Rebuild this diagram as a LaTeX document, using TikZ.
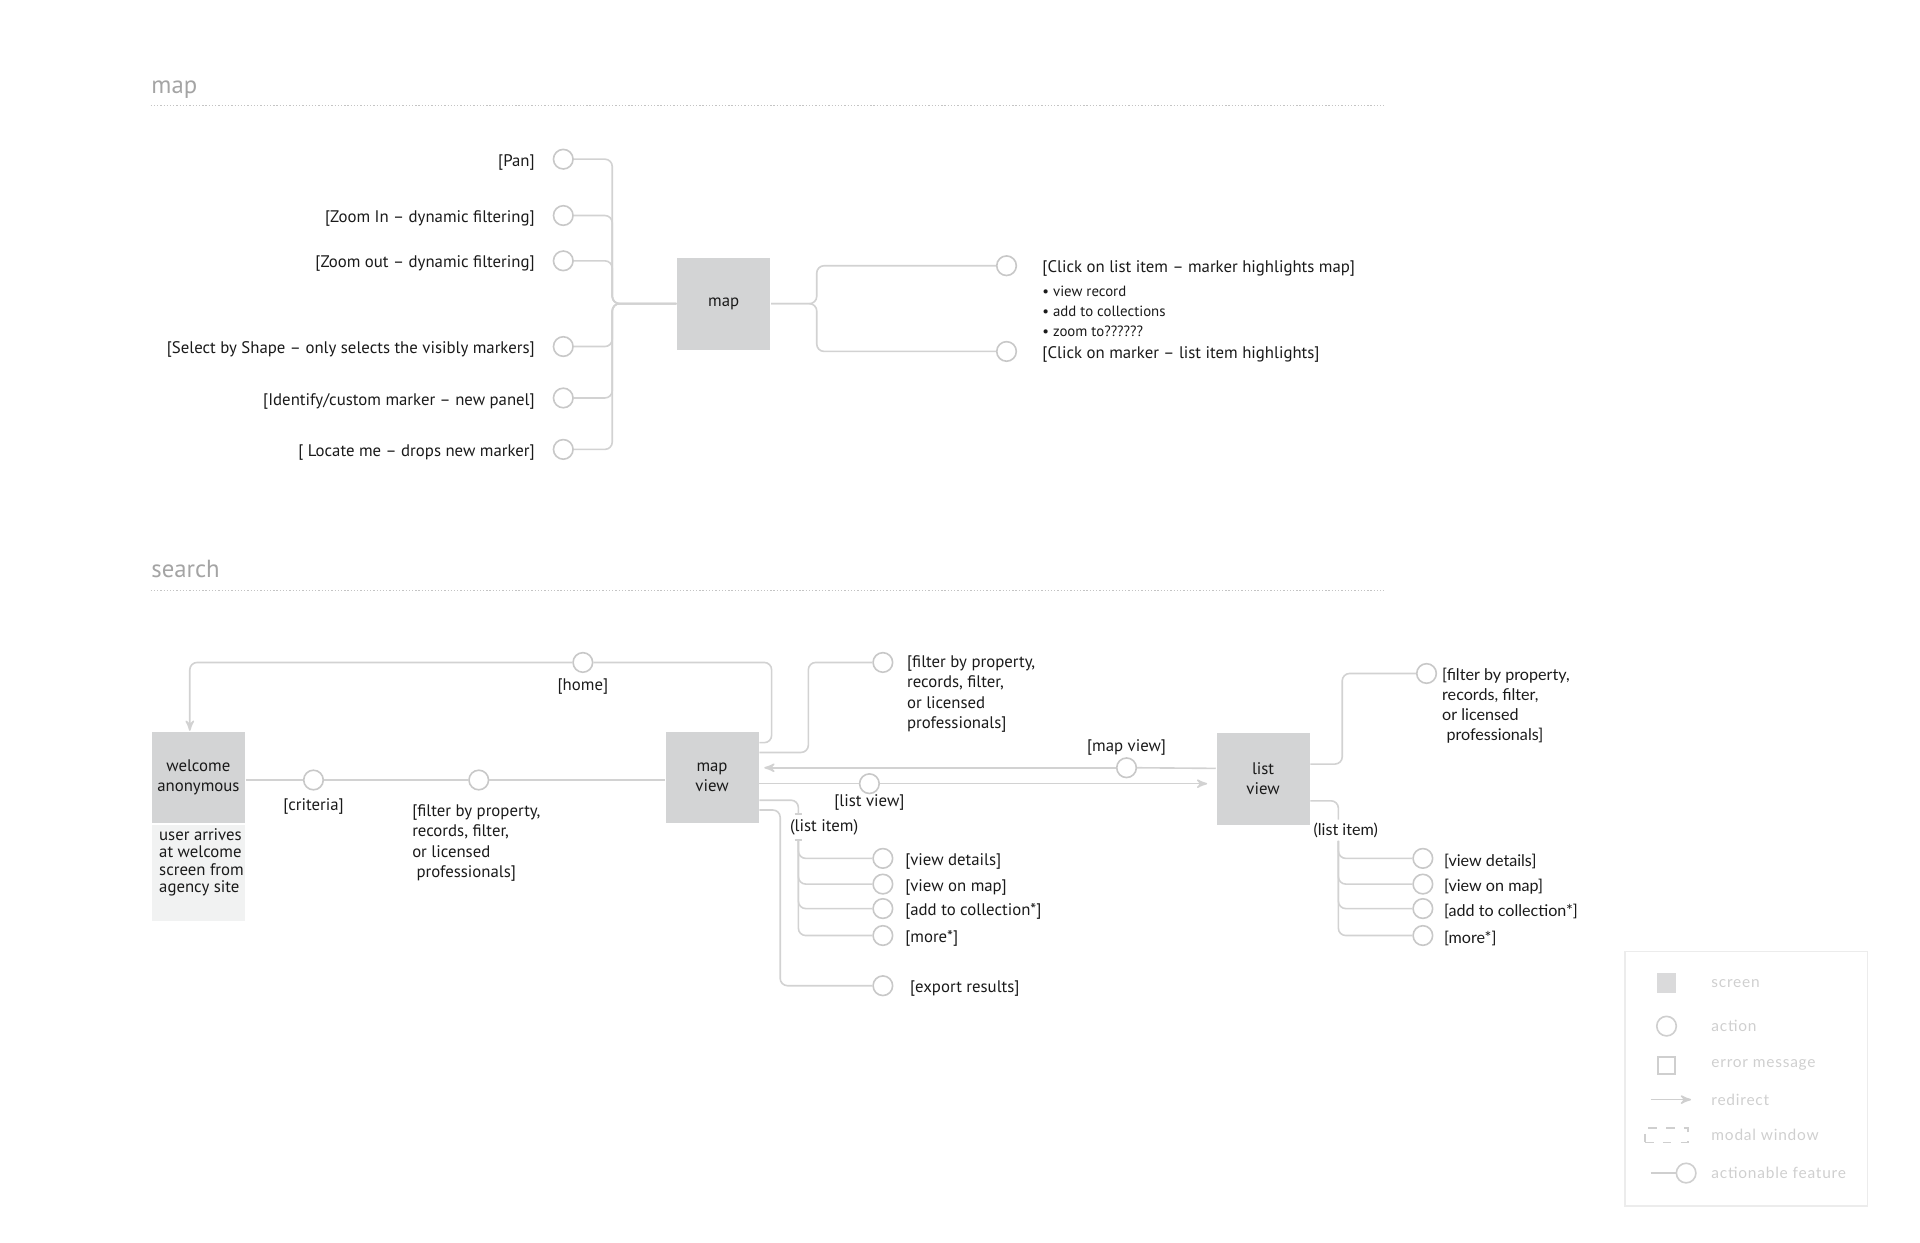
\documentclass[tikz,border=0pt]{standalone}
\usepackage{fontspec}
\setmainfont{PT Sans}
\newfontfamily\listfont{Lato}
\newfontfamily\keyfont{Lato}[LetterSpace=5]
\usepackage{tikz}
\usetikzlibrary{arrows,positioning}

\definecolor{linegray}{HTML}{D2D2D2}
\definecolor{circgray}{HTML}{C8C8C8}
\definecolor{boxgray}{HTML}{D3D4D5}
\definecolor{notegray}{HTML}{F1F2F2}
\definecolor{headgray}{HTML}{A4A4A4}
\definecolor{rulegray}{HTML}{C4C4C4}
\definecolor{inkgray}{HTML}{1A1A1A}
\definecolor{keygray}{HTML}{CFCFCF}
\definecolor{keyline}{HTML}{ECECEC}

\begin{document}
\begin{tikzpicture}[x=0.02cm,y=-0.02cm,>=stealth',line width=0.75pt,
    font=\fontsize{7.8}{9.4}\selectfont,text=inkgray,
    screen/.style={fill=boxgray,minimum width=1.52cm,minimum height=1.5cm,inner sep=0pt,align=center},
    action/.style={circle,draw=circgray,fill=white,minimum size=0.32cm,inner sep=0pt},
    lbl/.style={inner sep=0pt,align=left},
    sidelbl/.style={lbl,yshift=-0.05cm},
    listtext/.style={lbl,font=\listfont\fontsize{7.5}{9.2}\selectfont},
    link/.style={draw=linegray,rounded corners=0.12cm},
    head/.style={text=headgray,font=\fontsize{11.5}{13}\selectfont,anchor=base west,inner sep=0pt},
    rule/.style={draw=rulegray,line width=0.5pt,dash pattern=on 0.6pt off 0.9pt},
    keytext/.style={lbl,anchor=west,text=keygray,font=\keyfont\fontsize{7.2}{8}\selectfont}]

  \useasboundingbox (0,0) rectangle (1568,1014.3);

  % map
  \node[head] (maphead) at (123,76) {map};
  \coordinate (mapruleA) at (123,86);
  \coordinate (mapruleB) at (1130,86);
  \draw[rule] (mapruleA) -- (mapruleB);

  \node[screen] (map) at (591,248) {map};
  \coordinate (mapbus) at (500,248);
  \coordinate (mapfork) at (667,248);

  \foreach \nm/\y/\txt in {pan/130/{[Pan]},
      zoomin/176/{[Zoom In \textendash{} dynamic filtering]},
      zoomout/213/{[Zoom out \textendash{} dynamic filtering]},
      shape/283/{[Select by Shape \textendash{} only selects the visibly markers]},
      identify/325/{[Identify/custom marker \textendash{} new panel]},
      locate/367/{[ Locate me \textendash{} drops new marker]}}
  {
    \node[action] (\nm) at (460,\y) {};
    \node[sidelbl,left=0.28cm of \nm] (\nm-label) {\txt};
    \draw[link] (\nm.east) -| (mapbus) -- (map.west);
  }

  \node[action] (listclick) at (822,217) {};
  \node[action] (markerclick) at (822,287) {};
  \draw[link] (map.east) -- (mapfork) |- (listclick.west);
  \draw[link] (map.east) -- (mapfork) |- (markerclick.west);
  \node[sidelbl,right=0.4cm of listclick] (listclick-label) {[Click on list item \textendash{} marker highlights map]};
  \node[lbl,anchor=north west,font=\fontsize{6.9}{9.3}\selectfont] (listclick-notes)
    at ([yshift=-0.12cm]listclick-label.south west)
    {\textbullet{} view record\\ \textbullet{} add to collections\\ \textbullet{} zoom to??????};
  \node[sidelbl,right=0.4cm of markerclick] (markerclick-label) {[Click on marker \textendash{} list item highlights]};

  % search
  \node[head] (searchhead) at (123,472) {search};
  \coordinate (searchruleA) at (123,482);
  \coordinate (searchruleB) at (1130,482);
  \draw[rule] (searchruleA) -- (searchruleB);

  \node[screen] (welcome) at (162,635) {welcome\\anonymous};
  \node[fill=notegray,minimum width=1.52cm,minimum height=1.56cm,inner sep=0pt,below=0pt of welcome] (welcomenote) {};
  \node[lbl,anchor=north west,font=\fontsize{7.8}{8}\selectfont] (welcometext)
    at ([xshift=0.12cm,yshift=-0.06cm]welcomenote.north west) {user arrives\\at welcome\\screen from\\agency site};

  \node[screen] (mapview) at (581.5,635) {map\\view};
  \node[screen] (listview) at (1031.5,636) {list\\view};

  % welcome -> map view
  \node[action] (criteria) at (256,637) {};
  \node[action] (filter) at (391,637) {};
  \draw[link] (welcome.east |- criteria) -- (criteria.west);
  \draw[link] (criteria.east) -- (filter.west);
  \draw[link] (filter.east) -- (mapview.west |- filter);
  \node[lbl,below=0.12cm of criteria] (criteria-label) {[criteria]};
  \node[lbl,anchor=north west] (filter-label) at ([xshift=-1.1cm,yshift=-0.22cm]filter.south)
    {[filter by property,\\records, filter,\\or licensed\\\hspace{2pt}professionals]};

  % home
  \node[action] (home) at (476,541) {};
  \node[lbl,below=0.08cm of home] (home-label) {[home]};
  \draw[link] ([yshift=0.57cm]mapview.east) -- ++(10,0) |- (home.east);
  \draw[link,->] (home.west) -| ([xshift=-0.14cm]welcome.north);

  % map view branches
  \node[action] (mvfilter) at (721,541) {};
  \draw[link] ([yshift=0.41cm]mapview.east) -- ++(40,0) |- (mvfilter.west);
  \node[lbl,anchor=north west] (mvfilter-label) at ([xshift=0.26cm,yshift=0.0cm]mvfilter.north east)
    {[filter by property,\\records, filter,\\or licensed\\professionals]};

  \node[action] (tomap) at (920,627) {};
  \node[action] (tolist) at (710,640) {};
  \draw[link] ([yshift=0.17cm]listview.west) -- (tomap.east);
  \draw[link,->,shorten >=0.08cm] (tomap.west) -- (mapview.east |- tomap);
  \draw[link] (mapview.east |- tolist) -- (tolist.west);
  \draw[link,->,shorten >=0.14cm] (tolist.east) -- (listview.west |- tolist);
  \node[lbl,above=0.01cm of tomap] (tomap-label) {[map view]};
  \node[lbl,below=0pt of tolist] (tolist-label) {[list view]};

  \coordinate (mvstem) at (652,700);
  \node[lbl] (mvitem) at (673,676) {(list item)};
  \draw[link] ([yshift=-0.37cm]mapview.east) -| ([yshift=0.08cm]mvitem.north -| mvstem);
  \draw[linegray] ([xshift=-0.06cm,yshift=0.08cm]mvitem.north -| mvstem) -- ++(6,0);
  \draw[linegray] ([xshift=-0.06cm,yshift=-0.06cm]mvitem.south -| mvstem) -- ++(6,0);
  \foreach \nm/\y/\txt in {details/701/{[view details]}, onmap/722/{[view on map]},
      collect/742/{[add to collection*]}, more/764/{[more*]}}
  {
    \node[action] (mv\nm) at (721,\y) {};
    \node[sidelbl,right=0.18cm of mv\nm] (mv\nm-label) {\txt};
    \draw[link] ([yshift=-0.06cm]mvitem.south -| mvstem) |- (mv\nm.west);
  }

  \node[action] (export) at (721,805) {};
  \draw[link] ([yshift=-0.53cm]mapview.east) -- ++(17,0) |- (export.west);
  \node[sidelbl,right=0.26cm of export] (export-label) {[export results]};

  % list view branches
  \node[action] (lvfilter) at (1165,550) {};
  \draw[link] ([yshift=0.24cm]listview.east) -- ++(26,0) |- (lvfilter.west);
  \node[listtext,anchor=north west] (lvfilter-label) at ([xshift=0.12cm,yshift=-0.03cm]lvfilter.north east)
    {[filter by property,\\records, filter,\\or licensed\\\hspace{2pt}professionals]};

  \coordinate (lvstem) at (1093,700);
  \node[listtext] (lvitem) at (1099,678) {(list item)};
  \draw[link] ([yshift=-0.36cm]listview.east) -| ([yshift=0.04cm]lvitem.north -| lvstem);
  \foreach \nm/\y/\txt in {details/701/{[view details]}, onmap/722/{[view on map]},
      collect/742/{[add to collection*]}, more/764/{[more*]}}
  {
    \node[action] (lv\nm) at (1162,\y) {};
    \node[listtext,yshift=-0.05cm,right=0.16cm of lv\nm] (lv\nm-label) {\txt};
    \draw[link] ([yshift=-0.04cm]lvitem.south -| lvstem) |- (lv\nm.west);
  }

  % legend
  \node[draw=keyline,line width=0.6pt,minimum width=3.96cm,minimum height=4.16cm,inner sep=0pt] (key) at (1426,881) {};
  \node[fill=boxgray!85,minimum size=0.32cm,inner sep=0pt] (keyscreen) at (1361,803) {};
  \node[keytext] at (1397,803) {screen};
  \node[action,draw=keygray] (keyaction) at (1361,838) {};
  \node[keytext] at (1397,838) {action};
  \node[draw=keygray,minimum size=0.28cm,inner sep=0pt] (keyerror) at (1361,870) {};
  \node[keytext] at (1397,870) {error message};
  \coordinate (keyfrom) at (1348,898);
  \coordinate (keyto) at (1381,898);
  \draw[keygray,->] (keyfrom) -- (keyto);
  \node[keytext] at (1397,898) {redirect};
  \node[draw=keygray,dash pattern=on 0.14cm off 0.15cm,minimum width=0.7cm,minimum height=0.24cm,inner sep=0pt] (keymodal) at (1361,927) {};
  \node[keytext] at (1397,927) {modal window};
  \node[action,draw=keygray] (keyfeat) at (1377,958) {};
  \coordinate (keyfeatfrom) at (1348,958);
  \draw[keygray] (keyfeatfrom) -- (keyfeat.west);
  \node[keytext] at (1397,958) {actionable feature};
\end{tikzpicture}
\end{document}
